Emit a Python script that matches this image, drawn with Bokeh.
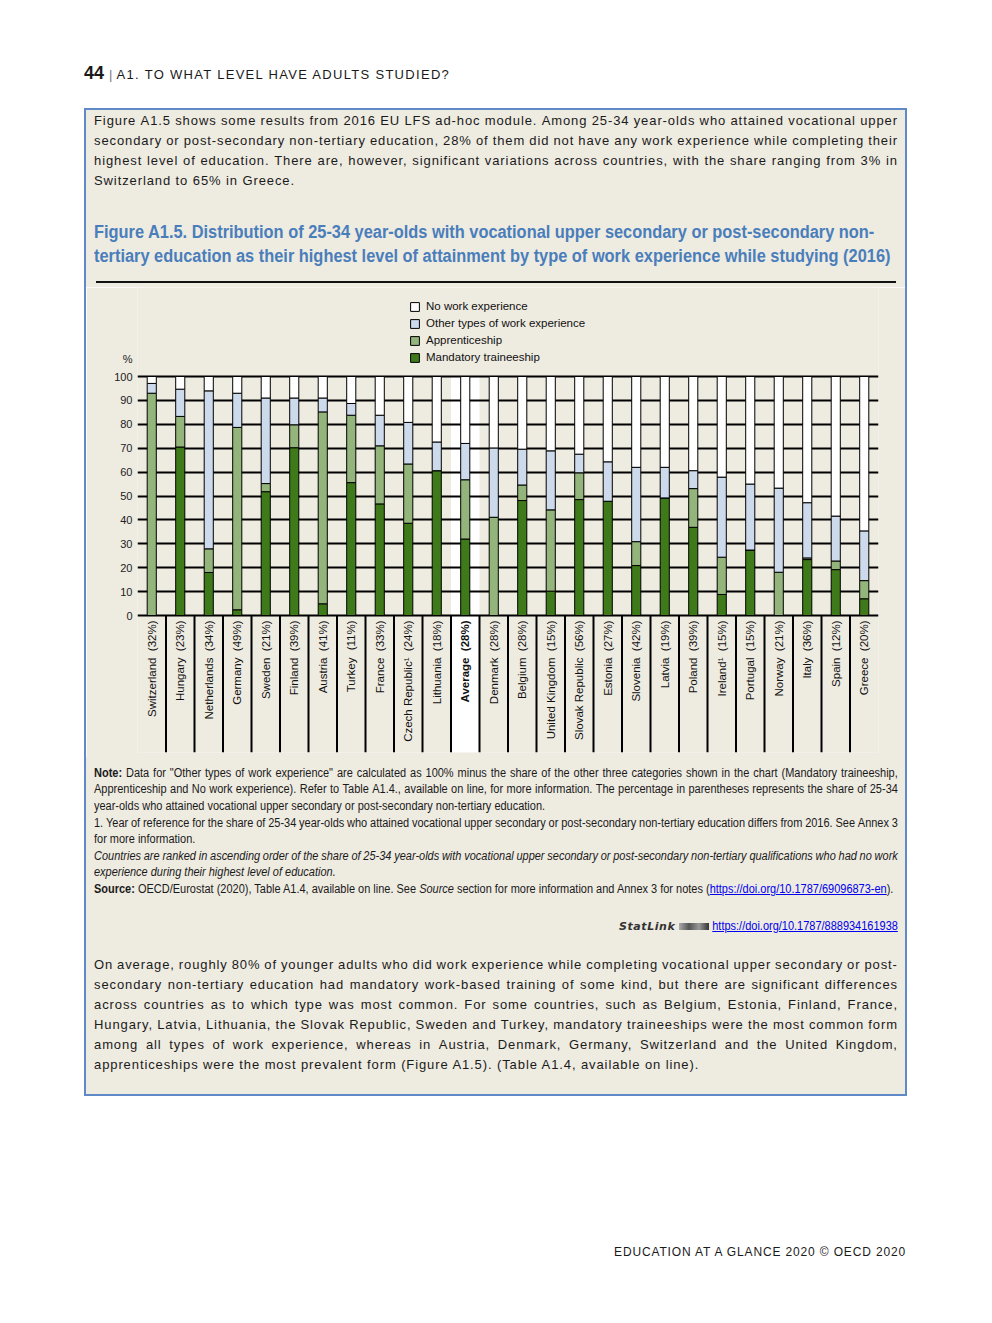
import re
from bokeh.plotting import figure
from bokeh.models import FactorRange, Range1d, FixedTicker, ColumnDataSource, Div, Spacer
from bokeh.layouts import column, row
from bokeh.transform import dodge
from bokeh.core.properties import value
from bokeh.embed import file_html
from bokeh.resources import INLINE

# ---------------- data ----------------
countries = ["Switzerland", "Hungary", "Netherlands", "Germany", "Sweden", "Finland", "Austria",
             "Turkey", "France", "Czech Republic\u00b9", "Lithuania", "Average", "Denmark", "Belgium",
             "United Kingdom", "Slovak Republic", "Estonia", "Slovenia", "Latvia", "Poland",
             "Ireland\u00b9", "Portugal", "Norway", "Italy", "Spain", "Greece"]
shares = [32, 23, 34, 49, 21, 39, 41, 11, 33, 24, 18, 28, 28, 28, 15, 56, 27, 42, 19, 39, 15, 15, 21, 36, 12, 20]
mandatory = [0, 70.5, 18.0, 2.4, 51.8, 70.2, 4.9, 55.6, 46.7, 38.6, 60.6, 32.0, 0, 48.1, 10.2, 48.5,
             47.8, 20.9, 49.2, 36.9, 8.8, 27.4, 0, 23.4, 19.2, 7.0]
apprenticeship = [93.0, 12.8, 9.9, 76.3, 3.4, 9.6, 80.3, 28.2, 24.3, 24.8, 0, 24.8, 41.1, 6.5, 34.0,
                  11.2, 0, 10.0, 0, 16.2, 15.6, 0, 18.1, 0.7, 3.6, 7.6]
other_types = [4.1, 11.4, 66.1, 14.3, 35.8, 11.2, 5.8, 4.9, 12.8, 17.4, 12.0, 15.2, 29.0, 15.0, 24.7,
               7.8, 16.5, 31.1, 12.8, 7.5, 33.5, 27.6, 35.2, 23.1, 18.8, 20.8]
no_work = [2.9, 5.3, 6.0, 7.0, 9.0, 9.0, 9.0, 11.3, 16.2, 19.2, 27.4, 28.0, 29.9, 30.4, 31.1, 32.5,
           35.7, 38.0, 38.0, 39.4, 42.1, 45.0, 46.7, 52.8, 58.4, 64.6]
series_keys = ["mandatory", "apprenticeship", "other", "none"]
series_names = ["Mandatory traineeship", "Apprenticeship", "Other types of work experience", "No work experience"]
series_colors = ["#3F7A1A", "#93B47A", "#CCDAEC", "#FFFFFF"]
y_ticks = [0, 10, 20, 30, 40, 50, 60, 70, 80, 90, 100]
unit_label = "%"
unit_label_pos = 107.5
highlight = "Average"

# ---------------- style ----------------
BG = "#EEEBE1"
BLUE = "#5F8AC7"
TITLE_BLUE = "#4A7EBB"
SANS = "'Liberation Sans', Arial, sans-serif"
NOTE_SCALE = 0.915

# ---------------- chart ----------------
Y_MIN, Y_MAX = -57.32, 137.24
p = figure(width=819, height=470, x_range=FactorRange(*countries), y_range=Range1d(Y_MIN, Y_MAX),
           output_backend="svg", toolbar_location=None, x_axis_location=None, title=None,
           min_border_left=51, min_border_right=27, min_border_top=0, min_border_bottom=5)
p.background_fill_color = BG
p.border_fill_color = BG
p.outline_line_color = None

# white strip behind the average column
p.vbar(x=[highlight], width=1.0, top=y_ticks[-1], bottom=Y_MIN, fill_color="white",
       line_color=None, level="image")

p.xgrid.grid_line_color = None
p.ygrid.ticker = FixedTicker(ticks=y_ticks)
p.ygrid.grid_line_color = "black"
p.ygrid.grid_line_width = 2

ax = p.yaxis[0]
ax.ticker = FixedTicker(ticks=y_ticks + [unit_label_pos])
ax.major_label_overrides = {unit_label_pos: unit_label}
ax.axis_line_color = None
ax.major_tick_line_color = None
ax.major_tick_out = 0
ax.major_tick_in = 0
ax.minor_tick_line_color = None
ax.major_label_standoff = 5
ax.major_label_text_font = SANS
ax.major_label_text_font_size = "11px"
ax.major_label_text_color = "#222222"

src = ColumnDataSource(dict(country=countries, mandatory=mandatory, apprenticeship=apprenticeship,
                            other=other_types, none=no_work))
p.vbar_stack(series_keys, x="country", width=0.32, fill_color=series_colors, line_color="black",
             line_width=1, source=src, legend_label=series_names)

# separators in the label area
sep_src = ColumnDataSource(dict(country=countries[:-1]))
p.segment(x0=dodge("country", 0.5, range=p.x_range), y0=0, x1=dodge("country", 0.5, range=p.x_range),
          y1=Y_MIN, source=sep_src, line_color="black", line_width=2)

lab_src = ColumnDataSource(dict(country=countries, share=[f"({s}%)" for s in shares],
                                style=["bold" if c == highlight else "normal" for c in countries]))
p.text(x="country", y=0, text="share", source=lab_src, angle=1.5707963, text_align="right",
       text_baseline="middle", y_offset=5, text_font=value(SANS), text_font_size="11.5px",
       text_font_style="style", text_color="#111111")
p.text(x="country", y=0, text="country", source=lab_src, angle=1.5707963, text_align="right",
       text_baseline="middle", y_offset=42, text_font=value(SANS), text_font_size="11.5px",
       text_font_style="style", text_color="#111111")

leg = p.legend[0]
leg.items = list(reversed(leg.items))
leg.location = (272, 388)
leg.background_fill_alpha = 0
leg.border_line_color = None
leg.padding = 0
leg.margin = 0
leg.spacing = 3
leg.glyph_height = 11
leg.glyph_width = 11
leg.label_height = 14
leg.label_standoff = 6
leg.label_text_font = SANS
leg.label_text_font_size = "11.5px"
leg.label_text_color = "#111111"


# ---------------- text helpers ----------------
def fmt(w):
    m = re.match(r"^\*\*(.+)\*\*(.*)$", w)
    if m:
        return f"<b>{m.group(1)}</b>{m.group(2)}"
    m = re.match(r"^_(.+)_(.*)$", w)
    if m:
        return f"<i>{m.group(1)}</i>{m.group(2)}"
    m = re.match(r"^(.*?)(https://\S+?)(\)?\.?)$", w)
    if m:
        return f'{m.group(1)}<a style="color:#0000EE;text-decoration:underline">{m.group(2)}</a>{m.group(3)}'
    return w


def line_html(text, top, left, width, lh, style, justify=True, scale=1.0, gap=3):
    w = width / scale
    tr = f"transform:scaleX({scale});transform-origin:0 0;" if scale != 1.0 else ""
    if justify:
        inner = "".join(f"<span>{fmt(x)}</span>" for x in text.split(" "))
        return (f'<div style="position:absolute;left:{left}px;top:{top}px;width:{w:.1f}px;height:{lh}px;'
                f'line-height:{lh}px;display:flex;justify-content:space-between;gap:{gap}px;white-space:nowrap;'
                f'{tr}{style}">{inner}</div>')
    inner = " ".join(fmt(x) for x in text.split(" "))
    return (f'<div style="position:absolute;left:{left}px;top:{top}px;width:{w:.1f}px;height:{lh}px;'
            f'line-height:{lh}px;white-space:nowrap;{tr}{style}">{inner}</div>')


body_style = f"font-family:{SANS};font-size:13px;letter-spacing:0.9px;color:#1a1a1a;"
intro = ["Figure A1.5 shows some results from 2016 EU LFS ad-hoc module. Among 25-34 year-olds who attained vocational upper",
         "secondary or post-secondary non-tertiary education, 28% of them did not have any work experience while completing their",
         "highest level of education. There are, however, significant variations across countries, with the share ranging from 3% in",
         "Switzerland to 65% in Greece."]
title = ["Figure A1.5. Distribution of 25-34 year-olds with vocational upper secondary or post-secondary non-",
         "tertiary education as their highest level of attainment by type of work experience while studying (2016)"]
notes = ["**Note:** Data for \"Other types of work experience\" are calculated as 100% minus the share of the other three categories shown in the chart (Mandatory traineeship,",
         "Apprenticeship and No work experience). Refer to Table A1.4., available on line, for more information. The percentage in parentheses represents the share of 25-34",
         "year-olds who attained vocational upper secondary or post-secondary non-tertiary education.",
         "1. Year of reference for the share of 25-34 year-olds who attained vocational upper secondary or post-secondary non-tertiary education differs from 2016. See Annex 3",
         "for more information.",
         "Countries are ranked in ascending order of the share of 25-34 year-olds with vocational upper secondary or post-secondary non-tertiary qualifications who had no work",
         "experience during their highest level of education.",
         "**Source:** OECD/Eurostat (2020), Table A1.4, available on line. See _Source_ section for more information and Annex 3 for notes (https://doi.org/10.1787/69096873-en)."]
notes_just = [True, True, False, True, False, True, False, False]
notes_ital = [False, False, False, False, False, True, True, False]
para = ["On average, roughly 80% of younger adults who did work experience while completing vocational upper secondary or post-",
        "secondary non-tertiary education had mandatory work-based training of some kind, but there are significant differences",
        "across countries as to which type was most common. For some countries, such as Belgium, Estonia, Finland, France,",
        "Hungary, Latvia, Lithuania, the Slovak Republic, Sweden and Turkey, mandatory traineeships were the most common form",
        "among all types of work experience, whereas in Austria, Denmark, Germany, Switzerland and the United Kingdom,",
        "apprenticeships were the most prevalent form (Figure A1.5). (Table A1.4, available on line)."]

PAGE_W = 984

# ---------------- top block (page y 0..287) ----------------
top_parts = []
top_parts.append(f'<div style="position:absolute;left:84px;top:63px;line-height:20px;white-space:nowrap;'
                 f'font-family:{SANS};font-size:13px;letter-spacing:1.3px;color:#1a1a1a;">'
                 f'<span style="font-weight:bold;font-size:18px;letter-spacing:0;">44</span> '
                 f'<span style="color:#777;letter-spacing:0;">|</span> A1. TO WHAT LEVEL HAVE ADULTS STUDIED?</div>')
box_in = []
for i, t in enumerate(intro):
    box_in.append(line_html(t, 1 + 20 * i, 8, 804, 20, body_style, justify=(i < len(intro) - 1)))
for i, t in enumerate(title):
    box_in.append(line_html(t, 110 + 24 * i, 8, 804, 24,
                            f"font-family:{SANS};font-weight:bold;font-size:18px;color:{TITLE_BLUE};",
                            justify=False, scale=0.91))
box_in.append('<div style="position:absolute;left:10px;top:171px;width:800px;height:2px;background:#111;"></div>')
top_parts.append(f'<div style="position:absolute;left:84px;top:108px;width:823px;height:179px;box-sizing:border-box;'
                 f'background:{BG};border:2px solid {BLUE};border-bottom:none;">{"".join(box_in)}</div>')
top_html = f'<div style="position:relative;width:{PAGE_W}px;height:287px;">{"".join(top_parts)}</div>'
top_div = Div(text=top_html, width=PAGE_W, height=287, margin=0)

# ---------------- bottom block (page y 757..1315) ----------------
bot_in = []
note_style = f"font-family:{SANS};font-size:12px;color:#1a1a1a;"
for i, t in enumerate(notes):
    st = note_style + ("font-style:italic;" if notes_ital[i] else "")
    bot_in.append(line_html(t, round(7.7 + 16.6 * i, 1), 8, 804, 17, st, justify=notes_just[i],
                            scale=NOTE_SCALE))
bot_in.append(f'<div style="position:absolute;right:7px;top:161px;line-height:16px;white-space:nowrap;">'
              f'<span style="font-family:\'DejaVu Sans\';font-style:italic;font-weight:bold;font-size:11px;'
              f'letter-spacing:0.6px;color:#333;">StatLink</span> '
              f'<span style="display:inline-block;width:30px;height:7px;background:linear-gradient(90deg,#aaa,#555,#999,#333);'
              f'vertical-align:middle;"></span> '
              f'<a style="display:inline-block;font-family:{SANS};font-size:12px;color:#0000EE;text-decoration:underline;'
              f'transform:scaleX({NOTE_SCALE});transform-origin:100% 50%;margin-left:-17px;">'
              f'https://doi.org/10.1787/888934161938</a></div>')
for i, t in enumerate(para):
    bot_in.append(line_html(t, 198 + 20 * i, 8, 804, 20, body_style, justify=(i < len(para) - 1)))
bot_parts = [f'<div style="position:absolute;left:84px;top:0px;width:823px;height:339px;box-sizing:border-box;'
             f'background:{BG};border:2px solid {BLUE};border-top:none;">{"".join(bot_in)}</div>',
             f'<div style="position:absolute;right:78px;top:486px;line-height:18px;white-space:nowrap;'
             f'font-family:{SANS};font-size:12px;letter-spacing:0.85px;color:#1a1a1a;">'
             f'EDUCATION AT A GLANCE 2020 \u00a9 OECD 2020</div>']
bot_html = f'<div style="position:relative;width:{PAGE_W}px;height:550px;">{"".join(bot_parts)}</div>'
bot_div = Div(text=bot_html, width=PAGE_W, height=550, margin=0)

left_b = Div(text="", width=2, height=470, margin=0, styles={"background-color": BLUE})
right_b = Div(text="", width=2, height=470, margin=0, styles={"background-color": BLUE})
mid = row(Spacer(width=84, height=470, margin=0), left_b, p, right_b, Spacer(width=77, height=470, margin=0),
          spacing=0)

page = column(top_div, mid, bot_div, spacing=0)

with open("out.html", "w") as f:
    f.write(file_html(page, INLINE, title="Figure A1.5"))
